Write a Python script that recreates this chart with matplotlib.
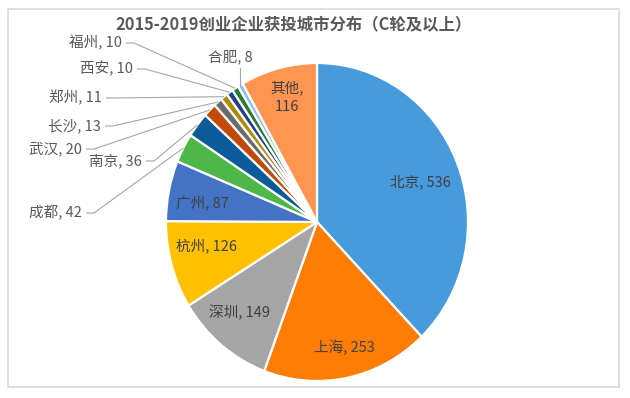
import numpy as np
import matplotlib
matplotlib.use("Agg")
import matplotlib.pyplot as plt
from matplotlib.patches import Rectangle

plt.rcParams['font.family'] = ['Noto Sans CJK SC', 'DejaVu Sans']

# ---- data ----
cities = ["北京", "上海", "深圳", "杭州", "广州", "成都", "南京", "武汉",
          "长沙", "郑州", "西安", "福州", "合肥", "其他"]
counts = [536, 253, 149, 126, 87, 42, 36, 20, 13, 11, 10, 10, 8, 116]
colors = ["#479ADB", "#FF7C05", "#A5A5A5", "#FFC000", "#4472C4", "#4DB848",
          "#0B5A9A", "#C24A08", "#6B6B6B", "#B08A00", "#22408F", "#2F7A33",
          "#8EC1EA", "#FF9550"]
title = "2015-2019创业企业获投城市分布（C轮及以上）"

# inside labels: name -> pixel centre
inside_pos = {"北京": (420, 182), "上海": (344, 348), "深圳": (240, 313),
              "杭州": (207, 246), "广州": (202, 203), "其他": (287, 97)}
# outside labels: name -> (text right edge px, y px)
outside_pos = {"福州": (122, 43), "西安": (133, 69), "郑州": (102, 98),
               "长沙": (101, 126), "武汉": (82, 149), "南京": (142, 161),
               "成都": (82, 213)}

W, H = 630, 398
CX, CY, RX, RY = 317, 222, 151, 159

def p2d(px, py):
    return (px - CX) / RX, (CY - py) / RY

fig = plt.figure(figsize=(W / 100, H / 100), dpi=100)
ax = fig.add_axes([0, 0, 1, 1])
ax.pie(counts, colors=colors, startangle=90, counterclock=False,
       radius=1, center=(0, 0),
       wedgeprops=dict(edgecolor="white", linewidth=1.6))
ax.set_aspect("auto")
ax.set_xlim(-CX / RX, (W - CX) / RX)
ax.set_ylim(-(H - CY) / RY, CY / RY)
ax.axis("off")

# mid angles
total = sum(counts)
cum = np.cumsum([0] + counts[:-1])
mids = {c: np.deg2rad(90 - (cum[i] + counts[i] / 2) / total * 360)
        for i, c in enumerate(cities)}

for i, c in enumerate(cities):
    if c in inside_pos:
        x, y = p2d(*inside_pos[c])
        txt = f"{c},\n{counts[i]}" if c == "其他" else f"{c}, {counts[i]}"
        ax.text(x, y, txt, ha="center", va="center", fontsize=10.5,
                color="#404040", linespacing=1.4)
    elif c in outside_pos:
        px, py = outside_pos[c]
        x, y = p2d(px, py)
        ax.text(x, y, f"{c}, {counts[i]}", ha="right", va="center",
                fontsize=10.5, color="#595959")
        a = mids[c]
        ex, ey = np.cos(a) * 1.0, np.sin(a) * 1.0
        sx, _ = p2d(px + 4, py)
        hx, _ = p2d(px + 12, py)
        ax.plot([sx, hx, ex], [y, y, ey], color="#A6A6A6", lw=0.8,
                solid_capstyle="butt")
    else:  # 合肥
        a = mids[c]
        ex, ey = np.cos(a), np.sin(a)
        tx, ty = p2d(230, 57)
        ax.text(tx, ty, f"{c}, {counts[i]}", ha="center", va="center",
                fontsize=10.5, color="#595959")
        _, ly = p2d(0, 68)
        ax.plot([ex, ex], [ly, ey * 1.0], color="#A6A6A6", lw=0.8)

fig.text(293 / W, 1 - 25 / H, title, ha="center", va="center",
         fontsize=11.8, fontweight="bold", color="#595959")

fig.add_artist(Rectangle((8 / W, (H - 387) / H), 611 / W, 378 / H,
                         transform=fig.transFigure, fill=False,
                         edgecolor="#D9D9D9", lw=1.2))

fig.savefig("out.png", dpi=100)
